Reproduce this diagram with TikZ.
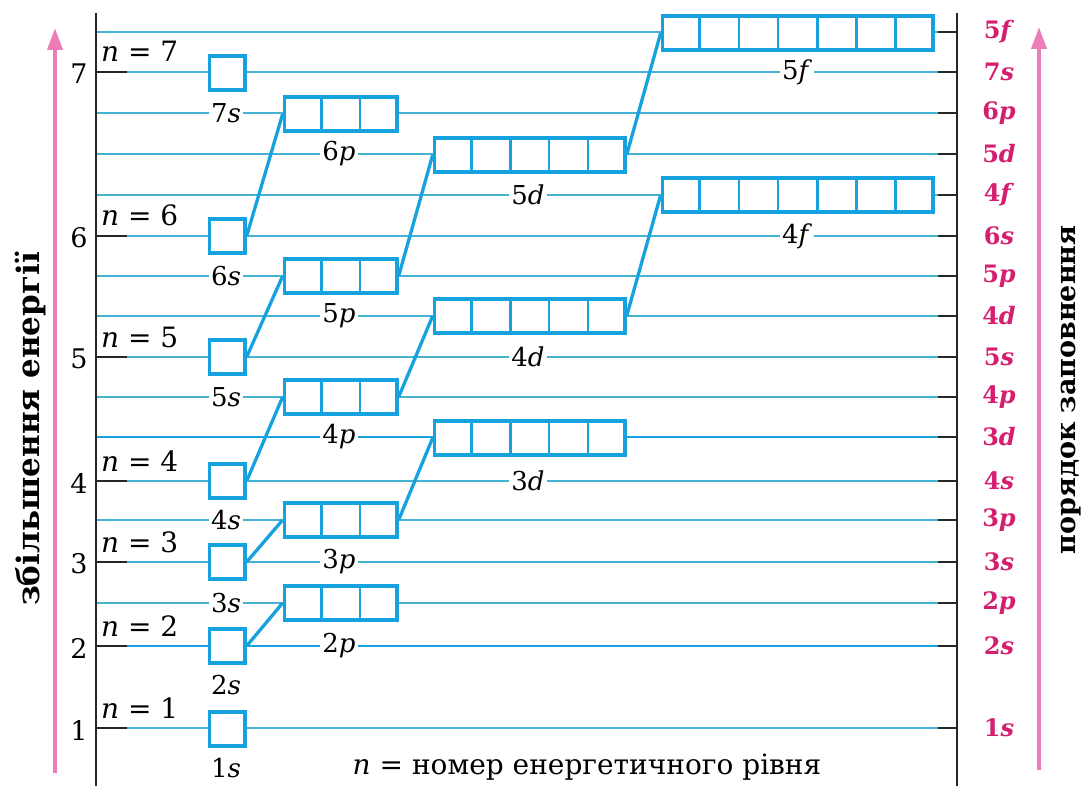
\documentclass[tikz,border=0pt]{standalone}
\usepackage{fontspec}
\setmainfont{DejaVu Serif}
\usetikzlibrary{arrows.meta,calc}
\definecolor{obl}{RGB}{22,162,222}
\definecolor{lbl}{RGB}{70,178,212}
\definecolor{mag}{RGB}{214,30,112}
\definecolor{pnk}{RGB}{236,125,182}
\newcommand\orbbox[5]{%
  \node[orb, minimum width=#5pt] (#1) at (#2,#3) {};
  \ifnum#4>1
    \pgfmathtruncatemacro\orblast{#4-1}%
    \foreach \k in {1,...,\orblast}{%
      \draw[obl, line width=2.6pt] ($(#1.north west)!{\k/#4}!(#1.north east)$) -- ($(#1.south west)!{\k/#4}!(#1.south east)$);
    }%
  \fi}
\begin{document}
\begin{tikzpicture}[x=1pt,y=-1pt,
  orb/.style={draw=obl, line width=3.3pt, fill=white, minimum height=34pt, inner sep=0pt, anchor=west},
  conn/.style={draw=obl, line width=3.3pt},
  lvl/.style={draw=lbl, line width=1.3pt},
  lvlthick/.style={draw=obl, line width=2.6pt},
  tick/.style={draw=black!85, line width=1.4pt},
  sub/.style={fill=white, inner xsep=2pt, inner ysep=0pt, font=\fontsize{26}{26}\selectfont},
  ord/.style={text=mag, inner sep=0pt, font=\fontsize{24}{24}\selectfont\bfseries},
  num/.style={inner sep=0pt, font=\fontsize{27}{27}\selectfont},
  nlab/.style={inner sep=0pt, anchor=base west, font=\fontsize{28}{28}\selectfont},
  side/.style={rotate=90, inner sep=0pt, font=\fontsize{30}{30}\selectfont\bfseries},
  parrow/.style={draw=pnk, line width=4pt, -{Triangle[width=15pt,length=22pt]}}]
\useasboundingbox (0,0) rectangle (1087,786);
% level lines
\foreach \y in {32,72,113,154,195,236,276,316,357,397,481,520,562,603,728}{
  \draw[lvl] (96,\y) -- (940,\y);
  \draw[tick] (938,\y) -- (957,\y);
}
\foreach \y in {437,646}{
  \draw[lvlthick] (96,\y) -- (940,\y);
  \draw[tick, line width=2.2pt] (938,\y) -- (957,\y);
}
\foreach \y in {72,236,357,481,562,646,728}{
  \draw[tick, line width=1.8pt] (96,\y) -- (127,\y);
}
\draw[tick] (96,13) -- (96,786);
\draw[tick] (957,13) -- (957,786);
% orbital boxes
\orbbox{o1s}{207.65}{729}{1}{35.7}
\orbbox{o2s}{207.65}{646}{1}{35.7}
\orbbox{o3s}{207.65}{562}{1}{35.7}
\orbbox{o4s}{207.65}{481}{1}{35.7}
\orbbox{o5s}{207.65}{357}{1}{35.7}
\orbbox{o6s}{207.65}{236}{1}{35.7}
\orbbox{o7s}{207.65}{73}{1}{35.7}
\orbbox{o2p}{282.65}{603}{3}{112.7}
\orbbox{o3p}{282.65}{520}{3}{112.7}
\orbbox{o4p}{282.65}{397}{3}{112.7}
\orbbox{o5p}{282.65}{276}{3}{112.7}
\orbbox{o6p}{282.65}{114}{3}{112.7}
\orbbox{o3d}{432.65}{438}{5}{190.7}
\orbbox{o4d}{432.65}{316}{5}{190.7}
\orbbox{o5d}{432.65}{155}{5}{190.7}
\orbbox{o4f}{660.65}{195}{7}{270.7}
\orbbox{o5f}{660.65}{33}{7}{270.7}
% connectors
\draw[conn] (o2s.east) -- (o2p.west);
\draw[conn] (o3s.east) -- (o3p.west);
\draw[conn] (o4s.east) -- (o4p.west);
\draw[conn] (o5s.east) -- (o5p.west);
\draw[conn] (o6s.east) -- (o6p.west);
\draw[conn] (o3p.east) -- (o3d.west);
\draw[conn] (o4p.east) -- (o4d.west);
\draw[conn] (o5p.east) -- (o5d.west);
\draw[conn] (o4d.east) -- (o4f.west);
\draw[conn] (o5d.east) -- (o5f.west);
% sublevel labels
\node[sub] (l7s) at (226,113) {7\textit{s}};
\node[sub] (l6s) at (226,276) {6\textit{s}};
\node[sub] (l5s) at (226,397) {5\textit{s}};
\node[sub] (l4s) at (226,520) {4\textit{s}};
\node[sub] (l3s) at (226,603) {3\textit{s}};
\node[sub] (l2s) at (226,685) {2\textit{s}};
\node[sub] (l1s) at (226,768) {1\textit{s}};
\node[sub] (l6p) at (339,154) {6\textit{p}};
\node[sub] (l5p) at (339,316) {5\textit{p}};
\node[sub] (l4p) at (339,437) {4\textit{p}};
\node[sub] (l3p) at (339,562) {3\textit{p}};
\node[sub] (l2p) at (339,646) {2\textit{p}};
\node[sub] (l5d) at (528,195) {5\textit{d}};
\node[sub] (l4d) at (528,357) {4\textit{d}};
\node[sub] (l3d) at (528,481) {3\textit{d}};
\node[sub] (l5f) at (797,72) {5\textit{f}};
\node[sub] (l4f) at (797,236) {4\textit{f}};
% filling order labels
\foreach \t/\l/\y in {5/f/32,7/s/72,6/p/113,5/d/154,4/f/195,6/s/236,5/p/276,4/d/316,5/s/357,4/p/397,3/d/437,4/s/481,3/p/520,3/s/562,2/p/603,2/s/646,1/s/728}{
  \node[ord] (r\t\l) at (999,\y) {\t\textit{\l}};
}
% level numbers
\foreach \n/\y in {7/72,6/236,5/357,4/481,3/562,2/646,1/728}{
  \node[num] (k\n) at (79,\y+2) {\n};
  \node[nlab] (n\n) at (101,\y-10) {\textit{n} = \n};
}
% arrows
\coordinate (la0) at (55,773);
\coordinate (la1) at (55,28);
\coordinate (ra0) at (1039,770);
\coordinate (ra1) at (1039,27);
\draw[parrow] (la0) -- (la1);
\draw[parrow] (ra0) -- (ra1);
% side texts
\node[side, font=\fontsize{31}{31}\selectfont\bfseries] (tl) at (31,429) {збільшення енергії};
\node[side, font=\fontsize{27}{27}\selectfont\bfseries] (tr) at (1071,390) {порядок заповнення};
\node[inner sep=0pt, font=\fontsize{28}{28}\selectfont] (bt) at (587,767) {\textit{n} = номер енергетичного рівня};
\end{tikzpicture}
\end{document}
